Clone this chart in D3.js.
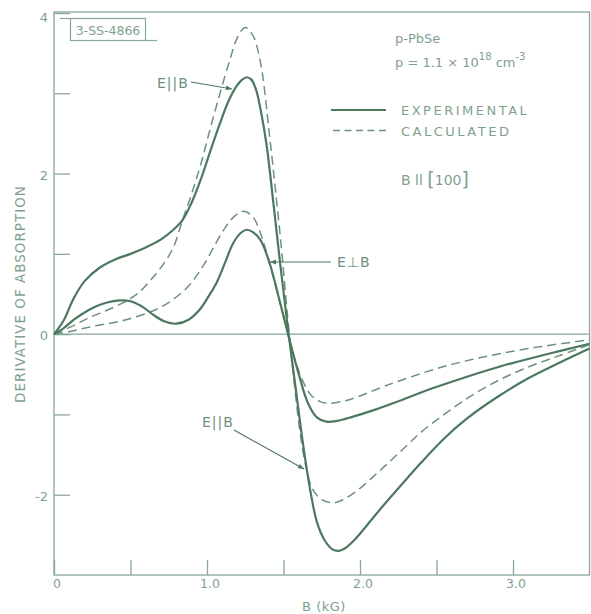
<!DOCTYPE html>
<html><head><meta charset="utf-8">
<script src="https://cdn.jsdelivr.net/npm/d3@7"></script>
<style>
html,body{margin:0;padding:0;background:#fff;}
svg text{font-family:"DejaVu Sans",sans-serif;}
</style></head>
<body>
<svg id="chart" width="591" height="614"></svg>
<script>
// ---- data (B in kG, derivative of absorption) ----
const xTickValues = [0, 0.5, 1.0, 1.5, 2.0, 2.5, 3.0];
const xTickLabels = ["0", "", "1.0", "", "2.0", "", "3.0"];
const yTickValues = [4, 3, 2, 1, 0, -1, -2];
const yTickLabels = ["4", "", "2", "", "0", "", "-2"];

const eParExpB = [0,0.06,0.13,0.2,0.3,0.4,0.5,0.6,0.7,0.78,0.84,0.9,0.96,1.02,1.08,1.14,1.19,1.23,1.26,1.29,1.32,1.35,1.39,1.43,1.48,1.53,1.58,1.63,1.68,1.72,1.77,1.82,1.86,1.9,1.96,2.05,2.15,2.26,2.4,2.55,2.7,2.9,3.1,3.3,3.5];
const eParExpV = [0,0.16,0.45,0.66,0.83,0.93,1.0,1.08,1.18,1.3,1.42,1.64,1.93,2.27,2.6,2.9,3.08,3.17,3.2,3.17,3.05,2.8,2.35,1.7,0.85,0.05,-0.68,-1.4,-2.0,-2.35,-2.57,-2.68,-2.7,-2.67,-2.57,-2.37,-2.14,-1.9,-1.6,-1.3,-1.05,-0.78,-0.55,-0.36,-0.18];

const eParCalcB = [0,0.12,0.235,0.35,0.45,0.55,0.63,0.71,0.78,0.84,0.9,0.96,1.02,1.085,1.15,1.2,1.25,1.3,1.35,1.41,1.45,1.49,1.53,1.57,1.61,1.65,1.69,1.75,1.83,1.9,2.0,2.13,2.26,2.4,2.55,2.7,2.9,3.1,3.3,3.5];
const eParCalcV = [0,0.1,0.21,0.3,0.39,0.51,0.67,0.86,1.08,1.42,1.75,2.12,2.55,3.0,3.42,3.7,3.82,3.72,3.38,2.45,1.75,1.0,0.15,-0.6,-1.25,-1.68,-1.93,-2.06,-2.1,-2.05,-1.92,-1.7,-1.47,-1.22,-1.0,-0.8,-0.58,-0.41,-0.27,-0.13];

const ePerpExpB = [0,0.06,0.13,0.2,0.28,0.36,0.43,0.5,0.57,0.65,0.72,0.8,0.88,0.95,1.01,1.06,1.12,1.17,1.22,1.26,1.3,1.35,1.41,1.47,1.53,1.6,1.66,1.72,1.78,1.85,1.95,2.1,2.26,2.45,2.7,2.92,3.2,3.5];
const ePerpExpV = [0,0.07,0.18,0.27,0.35,0.4,0.42,0.41,0.35,0.24,0.16,0.13,0.18,0.3,0.47,0.63,0.9,1.13,1.26,1.3,1.27,1.17,0.88,0.45,0.0,-0.5,-0.86,-1.04,-1.09,-1.08,-1.03,-0.94,-0.83,-0.69,-0.53,-0.4,-0.26,-0.12];

const ePerpCalcB = [0,0.12,0.235,0.35,0.45,0.56,0.67,0.77,0.87,0.94,1.0,1.06,1.12,1.18,1.24,1.3,1.36,1.42,1.48,1.53,1.58,1.63,1.68,1.74,1.8,1.9,2.0,2.13,2.26,2.5,2.7,2.92,3.2,3.5];
const ePerpCalcV = [0,0.04,0.09,0.13,0.17,0.23,0.31,0.42,0.58,0.75,0.93,1.14,1.33,1.47,1.53,1.46,1.2,0.8,0.37,0.0,-0.35,-0.6,-0.76,-0.84,-0.86,-0.83,-0.77,-0.67,-0.58,-0.43,-0.33,-0.24,-0.15,-0.07];

const legendLabels = ["EXPERIMENTAL", "CALCULATED"];

// ---- layout ----
const svg = d3.select("#chart");
const axisCol = "#88a896", curveCol = "#4c785e", dashCol = "#6d917f", textCol = "#7f9f8d";
const x = d3.scaleLinear().domain([0, 3.5]).range([54, 589.5]);
const y = d3.scaleLinear().domain([-3, 4]).range([575, 13]);

// frame
svg.append("rect").attr("x", 54).attr("y", 12).attr("width", 535.5).attr("height", 563)
  .attr("fill", "none").attr("stroke", axisCol).attr("stroke-width", 1.3);

// zero line
svg.append("line").attr("x1", x(0)).attr("x2", x(3.5)).attr("y1", y(0)).attr("y2", y(0))
  .attr("stroke", axisCol).attr("stroke-width", 1.1);

// axes
const yAxis = d3.axisRight(y).tickValues(yTickValues).tickSize(16).tickFormat(() => "");
const gy = svg.append("g").attr("transform", `translate(${x(0)},0)`).call(yAxis);
gy.select(".domain").remove();
gy.selectAll(".tick line").attr("stroke", axisCol).attr("stroke-width", 1.3);
svg.append("g").selectAll("text").data(yTickValues).join("text")
  .attr("x", 48).attr("y", (d, i) => y(d) + (i === 0 ? 9 : 6))
  .attr("text-anchor", "end").attr("font-size", 13).attr("fill", textCol)
  .text((d, i) => yTickLabels[i]);

const xAxis = d3.axisTop(x).tickValues(xTickValues).tickSize(15).tickFormat(() => "");
const gx = svg.append("g").attr("transform", `translate(0,${y(-3)})`).call(xAxis);
gx.select(".domain").remove();
gx.selectAll(".tick line").attr("stroke", axisCol).attr("stroke-width", 1.3);
svg.append("g").selectAll("text").data(xTickValues).join("text")
  .attr("x", d => x(d) + 3).attr("y", 588)
  .attr("text-anchor", "middle").attr("font-size", 12.5).attr("fill", textCol)
  .text((d, i) => xTickLabels[i]);

// axis titles
svg.append("text").attr("x", 324).attr("y", 611).attr("text-anchor", "middle")
  .attr("font-size", 13).attr("fill", textCol).attr("letter-spacing", 0.5).text("B (kG)");
svg.append("text").attr("transform", "translate(25,294) rotate(-90)").attr("text-anchor", "middle")
  .attr("font-size", 13.5).attr("fill", textCol).attr("letter-spacing", 1).text("DERIVATIVE OF ABSORPTION");

// curves
const line = d3.line().x(d => x(d[0])).y(d => y(d[1])).curve(d3.curveCatmullRom.alpha(0.5));
function series(bs, vs) { return bs.map((b, i) => [b, vs[i]]); }
const curves = [
  {d: series(eParCalcB, eParCalcV), dash: true},
  {d: series(ePerpCalcB, ePerpCalcV), dash: true},
  {d: series(eParExpB, eParExpV), dash: false},
  {d: series(ePerpExpB, ePerpExpV), dash: false}
];
svg.append("g").selectAll("path").data(curves).join("path")
  .attr("d", c => line(c.d)).attr("fill", "none")
  .attr("stroke", c => c.dash ? dashCol : curveCol)
  .attr("stroke-width", c => c.dash ? 1.5 : 2.2)
  .attr("stroke-dasharray", c => c.dash ? "9,5" : null);

// label box 3-SS-4866
const lb = svg.append("g");
lb.append("rect").attr("x", 70.5).attr("y", 18.5).attr("width", 75).attr("height", 22)
  .attr("fill", "none").attr("stroke", axisCol).attr("stroke-width", 1.2);
lb.append("line").attr("x1", 60).attr("x2", 70.5).attr("y1", 18.5).attr("y2", 18.5).attr("stroke", axisCol).attr("stroke-width", 1.2);
lb.append("line").attr("x1", 145.5).attr("x2", 157).attr("y1", 40.5).attr("y2", 40.5).attr("stroke", axisCol).attr("stroke-width", 1.2);
lb.append("text").attr("x", 108).attr("y", 34.5).attr("text-anchor", "middle").attr("font-size", 12.5)
  .attr("fill", textCol).text("3-SS-4866");

// legend / info
const info = svg.append("g").attr("fill", textCol).attr("font-size", 13);
info.append("text").attr("x", 395).attr("y", 43).text("p-PbSe");
const t2 = info.append("text").attr("x", 395).attr("y", 67);
t2.append("tspan").text("p = 1.1 × 10");
t2.append("tspan").attr("dy", -7).attr("font-size", 10).text("18");
t2.append("tspan").attr("dy", 7).text(" cm");
t2.append("tspan").attr("dy", -7).attr("font-size", 10).text("-3");
const legY = [110, 130.5];
info.selectAll("text.leg").data(legendLabels).join("text").attr("class", "leg")
  .attr("x", 401).attr("y", (d, i) => legY[i] + 5).attr("letter-spacing", 2.5).text(d => d);
svg.append("line").attr("x1", 331).attr("x2", 386).attr("y1", legY[0]).attr("y2", legY[0])
  .attr("stroke", curveCol).attr("stroke-width", 1.8);
svg.append("line").attr("x1", 333).attr("x2", 388).attr("y1", legY[1]).attr("y2", legY[1])
  .attr("stroke", dashCol).attr("stroke-width", 1.5).attr("stroke-dasharray", "7,4.5");
const t3 = info.append("text").attr("x", 401).attr("y", 185).attr("font-size", 14);
t3.append("tspan").text("B ll ");
t3.append("tspan").attr("font-size", 19).attr("dy", 1).text("[");
t3.append("tspan").attr("dy", -1).text("100");
t3.append("tspan").attr("font-size", 19).attr("dy", 1).text("]");

// annotations with arrows
svg.append("defs").append("marker").attr("id", "ah").attr("viewBox", "0 0 10 10")
  .attr("refX", 10).attr("refY", 5).attr("markerWidth", 9).attr("markerHeight", 6)
  .attr("orient", "auto").attr("markerUnits", "userSpaceOnUse")
  .append("path").attr("d", "M0,1 L10,5 L0,9 Z").attr("fill", curveCol);
const ann = [
  {text: "E||B", tx: 157, ty: 88, x1: 191, y1: 82, x2: 232, y2: 89},
  {text: "E\u22A5B", tx: 337, ty: 267, x1: 331, y1: 262, x2: 270, y2: 262},
  {text: "E||B", tx: 202, ty: 427, x1: 234, y1: 430, x2: 304, y2: 469}
];
svg.append("g").selectAll("line").data(ann).join("line")
  .attr("x1", d => d.x1).attr("y1", d => d.y1).attr("x2", d => d.x2).attr("y2", d => d.y2)
  .attr("stroke", curveCol).attr("stroke-width", 1.1).attr("marker-end", "url(#ah)");
svg.append("g").selectAll("text").data(ann).join("text")
  .attr("x", d => d.tx).attr("y", d => d.ty).attr("font-size", 14).attr("fill", "#6e907e")
  .attr("letter-spacing", 1).text(d => d.text);
</script>
</body></html>
